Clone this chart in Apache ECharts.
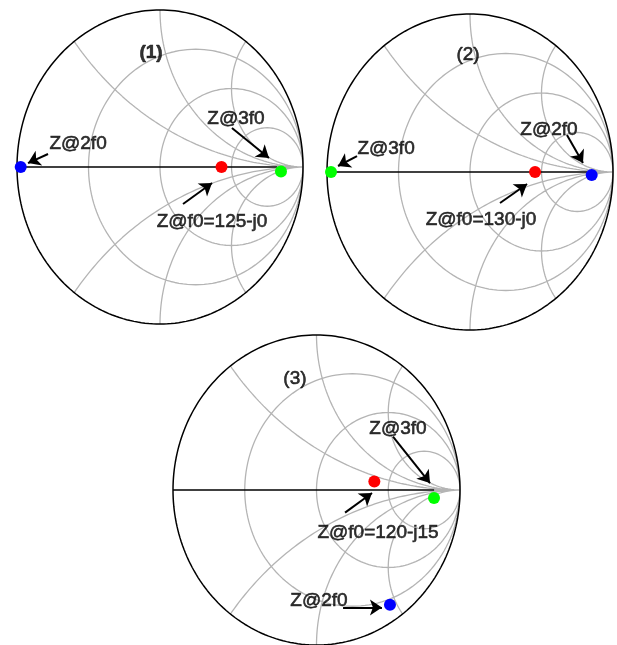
<!DOCTYPE html>
<html>
<head>
<meta charset="utf-8">
<style>
  html, body { margin: 0; padding: 0; background: #fff; }
  #main { width: 617px; height: 645px; }
</style>
<script src="https://cdn.jsdelivr.net/npm/echarts@6/dist/echarts.min.js"></script>
</head>
<body>
<div id="main"></div>
<script>
// grid values of the smith charts
var resValues = [1 / 3, 1, 3];
var reactValues = [0.5, 1, 2];

// reflection coefficient of each point, one entry per chart
var panelNames = ['(1)', '(2)', '(3)'];
var f0Points = [[0.43, 0], [0.455, 0], [0.403, 0.055]];
var f2Points = [[-0.974, 0], [0.851, -0.019], [0.512, -0.741]];
var f3Points = [[0.846, -0.029], [-0.972, 0], [0.819, -0.051]];
var f0Labels = ['Z@f0=125-j0', 'Z@f0=130-j0', 'Z@f0=120-j15'];

// where the annotations go (gamma plane)
var annot = [
  {
    name: [-0.063, 0.725],
    f0: { text: [0.364, -0.35], arrow: [[0.161, -0.236], [0.364, -0.102]] },
    f2: { text: [-0.573, 0.145], arrow: [[-0.783, 0.083], [-0.923, 0.025]] },
    f3: { text: [0.531, 0.305], arrow: [[0.503, 0.248], [0.762, 0.057]] }
  },
  {
    name: [-0.014, 0.745],
    f0: { text: [0.077, -0.303], arrow: [[0.210, -0.196], [0.399, -0.076]] },
    f2: { text: [0.552, 0.27], arrow: [[0.678, 0.234], [0.790, 0.057]] },
    f3: { text: [-0.587, 0.15], arrow: [[-0.790, 0.101], [-0.923, 0.038]] }
  },
  {
    name: [-0.150, 0.72],
    f0: { text: [0.429, -0.275], arrow: [[0.199, -0.146], [0.387, -0.019]] },
    f2: { text: [0.017, -0.713], arrow: [[0.185, -0.758], [0.456, -0.758]] },
    f3: { text: [0.568, 0.395], arrow: [[0.533, 0.344], [0.791, 0.045]] }
  }
];

var boxes = [
  { left: 17, top: 10, width: 286, height: 314 },
  { left: 327, top: 14, width: 286, height: 316 },
  { left: 173, top: 335, width: 287, height: 314 }
];

var FONT = '"Liberation Sans", Arial, sans-serif';

function arc(cx, cy, rad, t0, t1, n) {
  var pts = [];
  for (var i = 0; i <= n; i++) {
    var t = t0 + (t1 - t0) * i / n;
    pts.push([cx + rad * Math.cos(t), cy + rad * Math.sin(t)]);
  }
  return pts;
}

// all gray grid curves, separated by null
function gridCurves() {
  var out = [];
  resValues.forEach(function (r) {
    out = out.concat(arc(r / (1 + r), 0, 1 / (1 + r), 0, Math.PI * 2, 160));
    out.push(null);
  });
  reactValues.forEach(function (x) {
    var c = 1 / x;
    var px = (x * x - 1) / (x * x + 1), py = 2 * x / (x * x + 1);
    var tEnd = Math.atan2(py - c, px - 1);
    if (tEnd > -Math.PI / 2) tEnd -= Math.PI * 2;
    var up = arc(1, c, c, -Math.PI / 2, tEnd, 160);
    out = out.concat(up);
    out.push(null);
    out = out.concat(up.map(function (p) { return [p[0], -p[1]]; }));
    out.push(null);
  });
  out.push([0.82, 0], [1, 0]);
  return out;
}

var grids = [], xAxes = [], yAxes = [], series = [];

boxes.forEach(function (b, i) {
  grids.push(b);
  xAxes.push({ type: 'value', gridIndex: i, min: -1, max: 1, show: false });
  yAxes.push({ type: 'value', gridIndex: i, min: -1, max: 1, show: false });

  var base = { xAxisIndex: i, yAxisIndex: i, silent: true, animation: false };

  series.push(Object.assign({
    type: 'line', data: gridCurves(), showSymbol: false, connectNulls: false, z: 1,
    lineStyle: { color: '#b4b4b4', width: 1.3 }
  }, base));
  series.push(Object.assign({
    type: 'line', data: arc(0, 0, 1, 0, Math.PI * 2, 240), showSymbol: false, z: 2, clip: false,
    lineStyle: { color: '#000', width: 1.5 }
  }, base));
  series.push(Object.assign({
    type: 'line', data: [[-1, 0], [0.82, 0]], showSymbol: false, z: 2,
    lineStyle: { color: '#000', width: 1.5 }
  }, base));

  var a = annot[i];
  series.push(Object.assign({
    type: 'lines', coordinateSystem: 'cartesian2d', z: 3,
    symbol: ['none', 'arrow'], symbolSize: 12,
    lineStyle: { color: '#000', width: 2, opacity: 1 },
    data: [a.f0.arrow, a.f2.arrow, a.f3.arrow].map(function (c) { return { coords: c }; })
  }, base));

  [[f0Points[i], '#ff0000'], [f2Points[i], '#0000ff'], [f3Points[i], '#00ff00']].forEach(function (d) {
    series.push(Object.assign({
      type: 'scatter', data: [d[0]], symbolSize: 12, z: 4,
      itemStyle: { color: d[1], opacity: 1 }
    }, base));
  });

  var texts = [
    [a.name[0], a.name[1], panelNames[i]],
    [a.f0.text[0], a.f0.text[1], f0Labels[i]],
    [a.f2.text[0], a.f2.text[1], 'Z@2f0'],
    [a.f3.text[0], a.f3.text[1], 'Z@3f0']
  ];
  series.push(Object.assign({
    type: 'scatter', symbolSize: 1, z: 5, clip: false,
    itemStyle: { color: 'rgba(0,0,0,0)' },
    label: {
      show: true, position: 'inside', color: '#000', fontSize: 19, fontFamily: FONT,
      textBorderColor: '#000', textBorderWidth: 0.6,
      formatter: function (p) { return p.value[2]; }
    },
    // only the panel name of chart 1 looks bold
    data: texts.map(function (t, k) {
      return { value: t, label: { fontWeight: (k === 0 && i === 0) ? 'bold' : 'normal' } };
    })
  }, base));
});

var chart = echarts.init(document.getElementById('main'));
chart.setOption({
  backgroundColor: '#fff',
  animation: false,
  grid: grids,
  xAxis: xAxes,
  yAxis: yAxes,
  series: series
});
</script>
</body>
</html>
